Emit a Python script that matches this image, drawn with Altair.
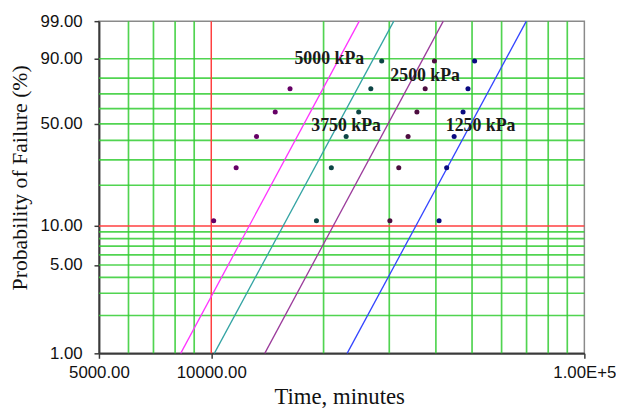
import altair as alt
import numpy as np
import pandas as pd

# ---------------- data ----------------
groups = ["5000 kPa", "3750 kPa", "2500 kPa", "1250 kPa"]
median_ranks = [10.94, 26.56, 42.19, 57.81, 73.44, 89.06]  # % failure
times_5000 = [10150, 11660, 13220, 14840, 16260]
times_3750 = [19140, 20980, 22990, 24840, 26770, 28630]
times_2500 = [30110, 31810, 33690, 35580, 37440, 39640]
times_1250 = [40790, 42750, 44770, 47300, 48760, 50800]

# fitted Weibull lines: time at 1 % and at 99 %
line_pct = [1, 99]
line_5000 = [8280, 24930]
line_3750 = [10190, 30850]
line_2500 = [13910, 41870]
line_1250 = [23130, 69900]

label_text = ["5000 kPa", "2500 kPa", "3750 kPa", "1250 kPa"]
label_time = [20720, 37440, 22990, 52700]
label_pct = [90, 81, 48.6, 48.6]

grid_x = [6000, 7000, 8000, 9000, 20000, 30000, 40000, 50000, 60000, 70000, 80000, 90000]
grid_y = [2, 3, 4, 5, 6, 7, 8, 9, 20, 30, 40, 50, 60, 70, 80, 90]
red_x = [10000]
red_y = [10]

x_ticks = [5000, 10000, 100000]
y_ticks = [1, 5, 10, 50, 90, 99]

line_colors = ["#ff33ff", "#33a3a3", "#9b3b9b", "#3344ff"]
dot_colors = ["#660066", "#0d4545", "#4d0d40", "#0a0a80"]


def wb(p):
    """Weibull probability-paper transform."""
    return np.log(-np.log(1 - np.asarray(p, dtype=float) / 100.0))


# ---------------- tables ----------------
pts_rows = []
for g, ts in zip(groups, [times_5000, times_3750, times_2500, times_1250]):
    for t, p in zip(ts, median_ranks):
        pts_rows.append({"grp": g, "t": t, "w": float(wb(p))})
pts = pd.DataFrame(pts_rows)

line_rows = []
for g, ts in zip(groups, [line_5000, line_3750, line_2500, line_1250]):
    for t, p in zip(ts, line_pct):
        line_rows.append({"grp": g, "t": t, "w": float(wb(p))})
lines = pd.DataFrame(line_rows)

labels = pd.DataFrame({"txt": label_text, "t": label_time, "w": wb(label_pct)})
gx = pd.DataFrame({"t": grid_x})
gy = pd.DataFrame({"w": wb(grid_y)})
rx = pd.DataFrame({"t": red_x})
ry = pd.DataFrame({"w": wb(red_y)})

# ---------------- scales / axes ----------------
xscale = alt.Scale(type="log", domain=[5000, 100000], nice=False)
yscale = alt.Scale(domain=[float(wb(1)), float(wb(99))], nice=False, zero=False)

xaxis = alt.Axis(
    values=x_ticks,
    labelExpr="datum.value >= 100000 ? '1.00E+5' : format(datum.value, '.2f')",
    grid=False, title="Time, minutes", titleX=243, titleY=51,
    titleAlign="center", titleBaseline="alphabetic", titleFontSize=23,
    labelPadding=6, labelFlush=False, labelOverlap=False,
)
yaxis = alt.Axis(
    values=[float(v) for v in wb(y_ticks)],
    labelExpr="format(100 * (1 - exp(-exp(datum.value))), '.2f')",
    grid=False, title="Probability of Failure (%)", titleX=-80, titleY=158,
    titleAngle=-90, titleAlign="center", titleBaseline="middle", titleFontSize=22,
    labelPadding=12, labelFlush=False, labelOverlap=False,
)

X = alt.X("t:Q", scale=xscale, axis=xaxis)
Y = alt.Y("w:Q", scale=yscale, axis=yaxis)

green = dict(color="#33cc33", strokeWidth=1.7, opacity=0.85)
red = dict(color="#ff4040", strokeWidth=1.5)

vgrid = alt.Chart(gx).mark_rule(**green).encode(x=X)
hgrid = alt.Chart(gy).mark_rule(**green).encode(y=Y)
vred = alt.Chart(rx).mark_rule(**red).encode(x=X)
hred = alt.Chart(ry).mark_rule(**red).encode(y=Y)

fit = alt.Chart(lines).mark_line(strokeWidth=1.3).encode(
    x=X, y=Y, detail="grp:N",
    color=alt.Color("grp:N", scale=alt.Scale(domain=groups, range=line_colors), legend=None),
)
dots = alt.Chart(pts).mark_circle(size=26, opacity=1).encode(
    x=X, y=Y,
    fill=alt.Fill("grp:N", scale=alt.Scale(domain=groups, range=dot_colors), legend=None),
)
txt = alt.Chart(labels).mark_text(
    font="Liberation Serif", fontSize=18, fontWeight="bold", color="#1a1a1a",
    align="center", baseline="middle",
).encode(x=X, y=Y, text="txt:N")

chart = (
    alt.layer(vgrid, hgrid, vred, hred, fit, dots, txt)
    .resolve_scale(color="independent", fill="independent")
    .properties(
        width=491, height=336,
        autosize=alt.AutoSizeParams(type="none"),
        padding={"left": 92, "top": 11, "right": 32, "bottom": 55},
        background="white",
    )
    .configure_view(stroke="#8a8a8a", strokeWidth=1.5)
    .configure_axis(
        domainColor="#3a3a3a", domainWidth=2, tickColor="#3a3a3a", tickSize=5, tickWidth=1.5,
        labelFont="Liberation Sans", labelFontSize=17, labelColor="#111111",
        titleFont="Liberation Serif", titleFontWeight="normal", titleColor="#111111",
    )
)

chart.save("out.html", embed_options={"renderer": "svg", "actions": False})
